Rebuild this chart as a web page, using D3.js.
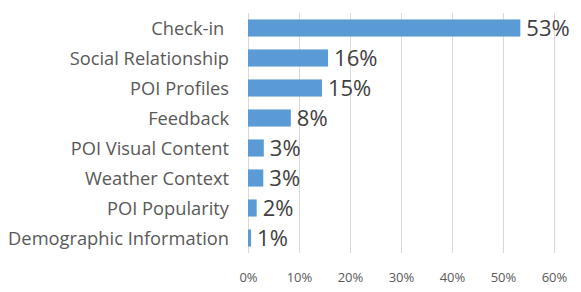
<!DOCTYPE html>
<html><head><meta charset="utf-8">
<script src="https://cdn.jsdelivr.net/npm/d3@7"></script>
<style>body{margin:0;background:#fff}svg{display:block}</style>
</head><body>
<script>
const categories = ["Check-in ", "Social Relationship", "POI Profiles", "Feedback", "POI Visual Content", "Weather Context", "POI Popularity", "Demographic Information"];
const values = [53.4, 15.7, 14.5, 8.4, 3.1, 3.0, 1.7, 0.6];
const valueLabels = ["53%", "16%", "15%", "8%", "3%", "3%", "2%", "1%"];
const tickValues = [0, 10, 20, 30, 40, 50, 60];

const W = 581, H = 292;
const margin = {left: 248, right: 27, top: 13, bottom: 39};
const svg = d3.select("body").append("svg").attr("width", W).attr("height", H);
const x = d3.scaleLinear().domain([0, 60]).range([margin.left, 554]);
const y = d3.scaleBand().domain(categories).range([margin.top, H - margin.bottom]).paddingInner(0.43).paddingOuter(0.215);

// gridlines
svg.append("g").selectAll("line").data(tickValues).join("line")
  .attr("x1", d => Math.round(x(d)) + 0.5).attr("x2", d => Math.round(x(d)) + 0.5)
  .attr("y1", margin.top).attr("y2", H - margin.bottom)
  .attr("stroke", "#d9d9d9").attr("stroke-width", 1);

// x axis
const xAxis = d3.axisBottom(x).tickValues(tickValues).tickFormat(d => d + "%").tickSize(0).tickPadding(0);
const gx = svg.append("g").attr("transform", `translate(0,${H - margin.bottom})`).call(xAxis);
gx.select(".domain").remove();
gx.selectAll("text").attr("y", 0).attr("dy", "29px").attr("fill", "#595959")
  .style("font-family", "'Open Sans'").style("font-size", "13px");

// bars
svg.append("g").selectAll("rect").data(values).join("rect")
  .attr("x", x(0)).attr("y", (d, i) => y(categories[i]))
  .attr("width", d => x(d) - x(0)).attr("height", y.bandwidth())
  .attr("fill", "#5b9bd5");

// value labels
svg.append("g").selectAll("text").data(values).join("text")
  .attr("x", d => x(d) + 6).attr("y", (d, i) => y(categories[i]) + y.bandwidth() / 2)
  .attr("dy", "0.36em")
  .text((d, i) => valueLabels[i])
  .attr("fill", "#404040").style("font-family", "'Open Sans'").style("font-size", "22px");

// category labels
const yAxis = d3.axisLeft(y).tickSize(0).tickPadding(0);
const gy = svg.append("g").attr("transform", `translate(229,0)`).call(yAxis);
gy.select(".domain").remove();
gy.selectAll("text").attr("x", 0).attr("dy", "0.36em").attr("fill", "#595959")
  .style("white-space", "pre")
  .style("font-family", "'Open Sans'").style("font-size", "18.3px");
</script>
</body></html>
